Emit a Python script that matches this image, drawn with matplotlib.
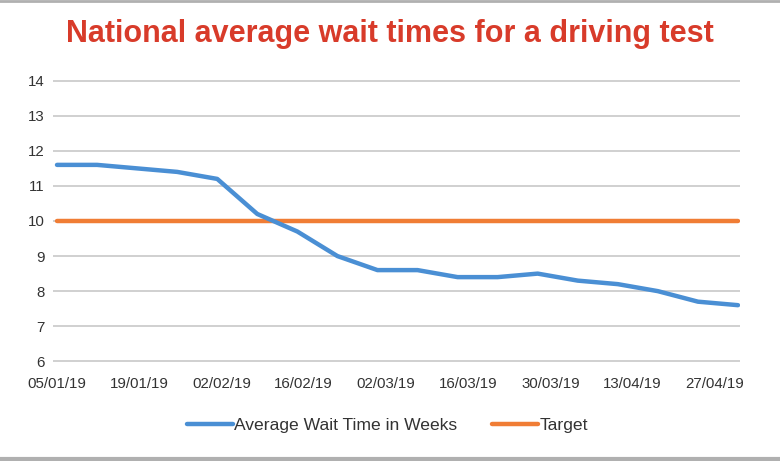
import numpy as np
import matplotlib.pyplot as plt
from matplotlib.lines import Line2D

# weekly national average wait times (weeks), from 05/01/19
weeks = np.arange(18)
wait_times = [11.6, 11.6, 11.5, 11.4, 11.2, 10.2, 9.7, 9.0, 8.6,
              8.6, 8.4, 8.4, 8.5, 8.3, 8.2, 8.0, 7.7, 7.6]
target = [10.0] * 18
tick_labels = ["05/01/19", "19/01/19", "02/02/19", "16/02/19", "02/03/19",
               "16/03/19", "30/03/19", "13/04/19", "27/04/19"]
y_ticks = [6, 7, 8, 9, 10, 11, 12, 13, 14]

BLUE = "#4a8fd4"
ORANGE = "#f07d35"
RED = "#d83b2a"
TEXT = "#333333"

plt.rcParams["font.family"] = ["Liberation Sans", "DejaVu Sans"]

fig = plt.figure(figsize=(7.8, 4.61), dpi=100)
ax = fig.add_axes([53 / 780, 99 / 461, 687 / 780, 282 / 461])

ax.plot(weeks, wait_times, color=BLUE, lw=3.2, solid_joinstyle="round",
        solid_capstyle="round", label="Average Wait Time in Weeks", zorder=3)
ax.plot(weeks, target, color=ORANGE, lw=3.2, solid_capstyle="round",
        label="Target", zorder=2)

ax.set_xlim(-0.1, 17.05)
ax.set_ylim(5.98, 14.02)
ax.set_yticks(y_ticks)
ax.set_xticks(np.arange(len(tick_labels)) * 2.053)
ax.set_xticklabels(tick_labels)
ax.grid(axis="y", color="#d0d0d0", lw=1.4)
ax.set_axisbelow(True)
for s in ax.spines.values():
    s.set_visible(False)
ax.tick_params(axis="both", length=0, labelsize=10.8, labelcolor=TEXT)
ax.tick_params(axis="y", pad=6)
ax.tick_params(axis="x", pad=11)

fig.text(0.5, 1 - 34 / 461, "National average wait times for a driving test",
         ha="center", va="center", color=RED, fontsize=22, fontweight="bold",
         family=["Liberation Sans Narrow", "Liberation Sans", "DejaVu Sans"])

leg = fig.legend(loc="center", bbox_to_anchor=(0.497, 36 / 461), ncol=2,
                 frameon=False, fontsize=12.6, handlelength=2.6,
                 handletextpad=0.1, columnspacing=2.0)
for t in leg.get_texts():
    t.set_color(TEXT)

# thin grey rules top and bottom
fig.add_artist(Line2D([0, 1], [0.998, 0.998], transform=fig.transFigure,
                      color="#b0b0b0", lw=2))
fig.add_artist(Line2D([0, 1], [0.004, 0.004], transform=fig.transFigure,
                      color="#b0b0b0", lw=3))

fig.savefig("out.png", dpi=100)
